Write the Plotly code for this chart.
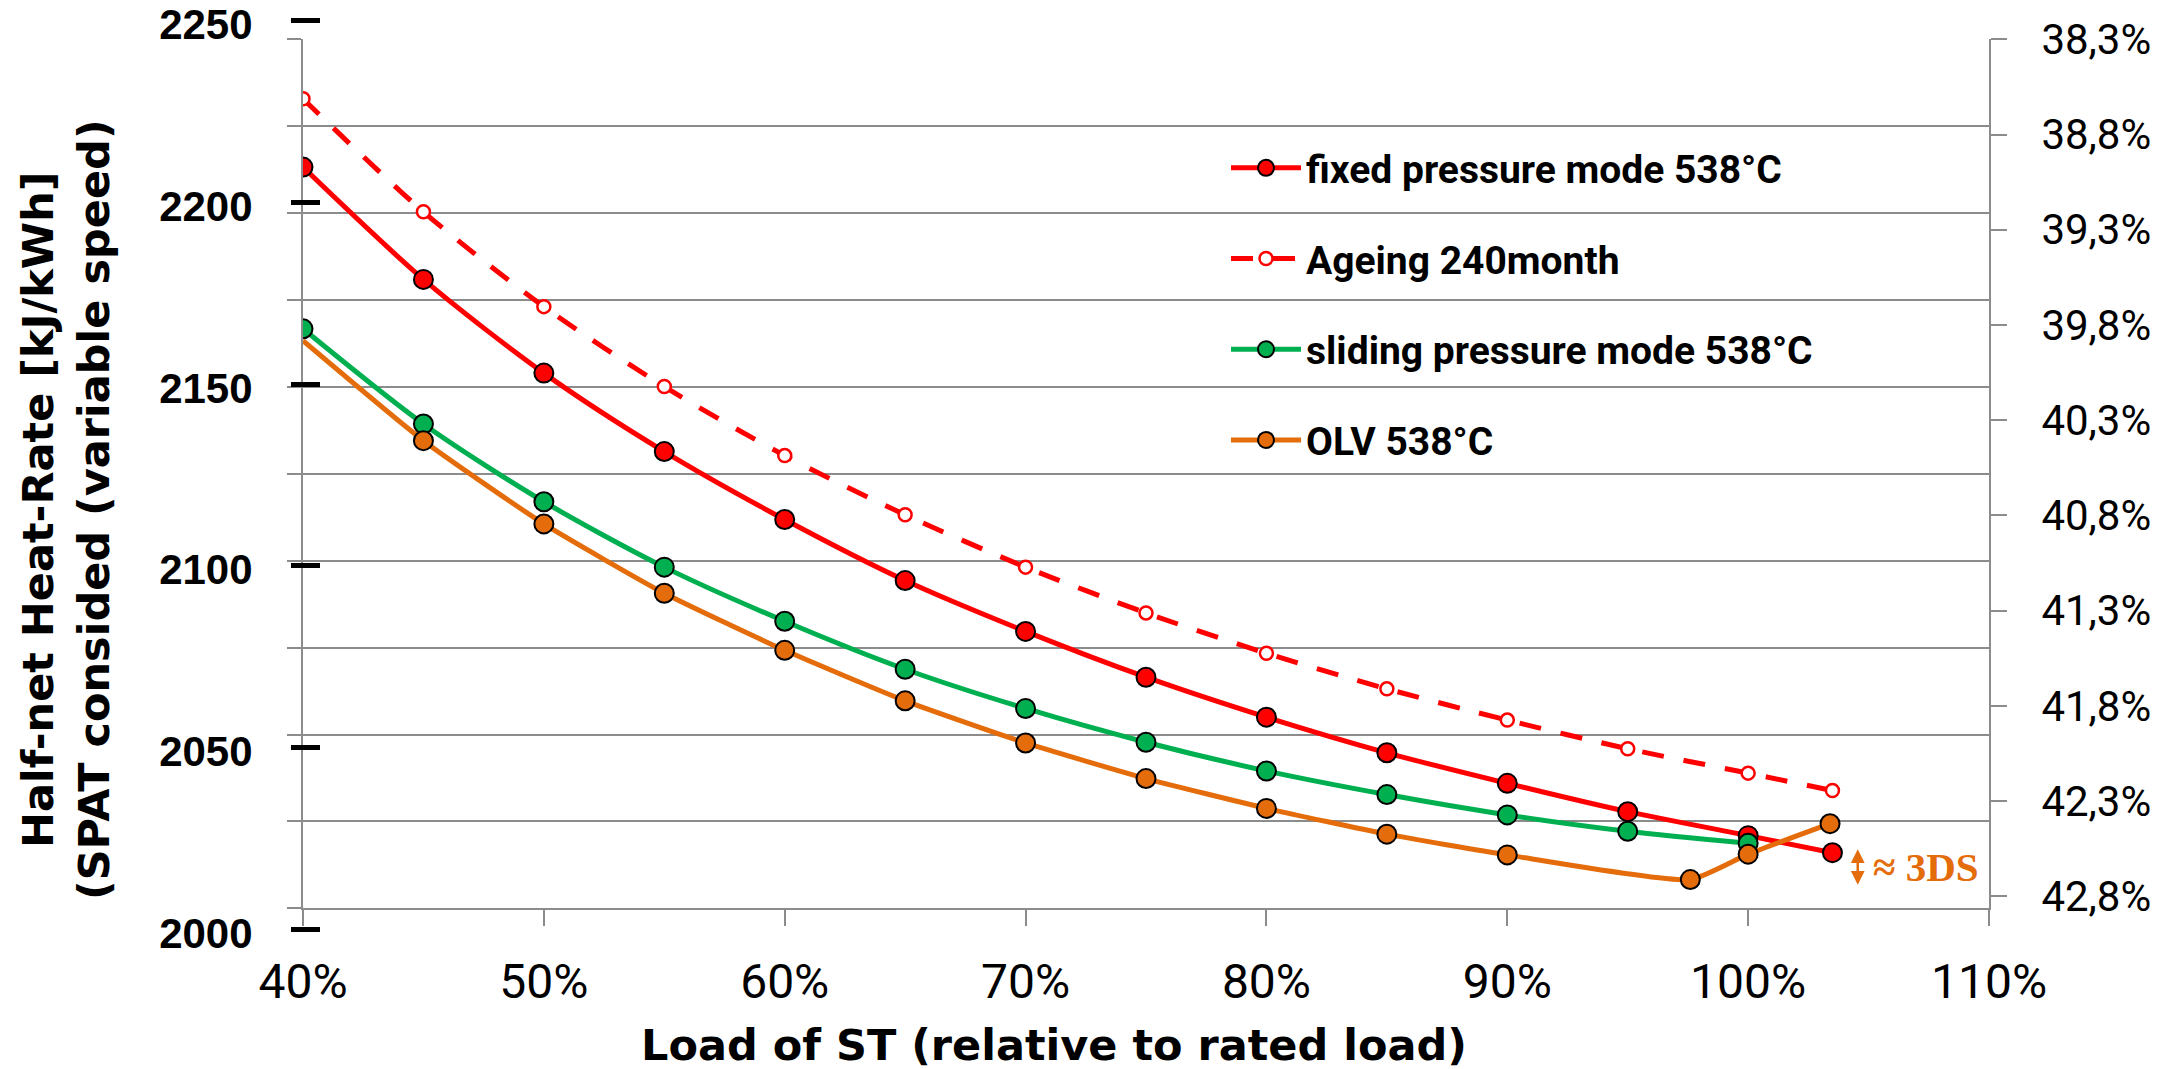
import plotly.graph_objects as go

# ---- data -------------------------------------------------------------
load_main = [40, 45, 50, 55, 60, 65, 70, 75, 80, 85, 90, 95, 100, 103.5]
fixed_pressure = [2209.7, 2178.8, 2153.0, 2131.4, 2112.7, 2095.9, 2081.9,
                  2069.3, 2058.3, 2048.5, 2040.1, 2032.3, 2025.7, 2021.0]
ageing_240 = [2228.5, 2197.4, 2171.3, 2149.3, 2130.3, 2114.0, 2099.6,
              2087.0, 2075.9, 2066.1, 2057.5, 2049.6, 2042.9, 2038.1]

load_sliding = [40, 45, 50, 55, 60, 65, 70, 75, 80, 85, 90, 95, 100]
sliding_pressure = [2165.2, 2139.0, 2117.6, 2099.6, 2084.7, 2071.5, 2060.7,
                    2051.4, 2043.5, 2037.0, 2031.4, 2026.9, 2023.6]

load_olv = [40, 45, 50, 55, 60, 65, 70, 75, 80, 85, 90, 97.6, 100, 103.4]
olv = [2161.9, 2134.4, 2111.5, 2092.4, 2076.7, 2062.8, 2051.2,
       2041.4, 2033.2, 2026.1, 2020.4, 2013.6, 2020.6, 2029.0]

series_names = ["fixed pressure mode 538°C", "Ageing 240month",
                "sliding pressure mode 538°C", "OLV 538°C"]

x_ticks = [40, 50, 60, 70, 80, 90, 100, 110]
x_tick_text = ["40%", "50%", "60%", "70%", "80%", "90%", "100%", "110%"]

hr_ticks = [2000, 2050, 2100, 2150, 2200, 2250]
eff_ticks = [38.3, 38.8, 39.3, 39.8, 40.3, 40.8, 41.3, 41.8, 42.3, 42.8]
eff_tick_text = ["38,3%", "38,8%", "39,3%", "39,8%", "40,3%",
                 "40,8%", "41,3%", "41,8%", "42,3%", "42,8%"]

# ---- layout geometry (pixels) ----------------------------------------
W, H = 2179, 1069
PL, PR = 303, 1989          # plot left / right
PT, PB = 20, 929            # paper top / bottom
GRID_T, GRID_B = 39.3, 908.3


def px_x(p):
    return (p - PL) / (PR - PL)


def px_y(p):
    return (PB - p) / (PB - PT)


RED = "#FF0000"
GREEN = "#00B050"
ORANGE = "#E46C0A"
GRAY = "#8C8C8C"

fig = go.Figure()

# helper traces so the grid axis and the efficiency axis are created
fig.add_trace(go.Scatter(x=[None], y=[None], yaxis="y", mode="lines",
                         showlegend=False, hoverinfo="skip"))
fig.add_trace(go.Scatter(x=[None], y=[None], yaxis="y2", mode="lines",
                         showlegend=False, hoverinfo="skip"))

marker_line = dict(color="black", width=2)

fig.add_trace(go.Scatter(
    x=load_main, y=fixed_pressure, yaxis="y3", name=series_names[0],
    legendgroup="a", mode="lines+markers",
    line=dict(color=RED, width=5, shape="spline", smoothing=0.8),
    marker=dict(size=19, color=RED, opacity=1, line=marker_line)))

fig.add_trace(go.Scatter(
    x=load_main, y=ageing_240, yaxis="y3", name=series_names[1],
    legendgroup="b", mode="lines+markers",
    line=dict(color=RED, width=5, dash="22px,20px", shape="spline", smoothing=0.8),
    marker=dict(size=13, color="white", opacity=1,
                line=dict(color=RED, width=2.5))))

fig.add_trace(go.Scatter(
    x=load_sliding, y=sliding_pressure, yaxis="y3", name=series_names[2],
    legendgroup="c", mode="lines+markers",
    line=dict(color=GREEN, width=5, shape="spline", smoothing=0.8),
    marker=dict(size=19, color=GREEN, opacity=1, line=marker_line)))

olv_sizes = [0] + [19] * (len(olv) - 1)
fig.add_trace(go.Scatter(
    x=load_olv, y=olv, yaxis="y3", name=series_names[3],
    legendgroup="d", mode="lines+markers",
    line=dict(color=ORANGE, width=5, shape="spline", smoothing=0.5),
    marker=dict(size=olv_sizes, sizemode="diameter", color=ORANGE,
                opacity=1, line=marker_line)))

y_dom = [px_y(GRID_B), px_y(GRID_T)]
hr_top = 2000 + 250 / px_y(20.7)
eff_bottom = 38.3 + 4.5 * (GRID_B - GRID_T) / (896.3 - GRID_T)

fig.update_layout(
    width=W, height=H,
    margin=dict(l=PL, r=W - PR, t=PT, b=H - PB, pad=0, autoexpand=False),
    paper_bgcolor="white", plot_bgcolor="rgba(0,0,0,0)",
    xaxis=dict(
        range=[40, 110], anchor="y", domain=[0, 1], automargin=False,
        tickvals=x_ticks, ticktext=x_tick_text,
        ticks="outside", ticklen=16, tickwidth=2, tickcolor=GRAY,
        showline=True, linecolor=GRAY, linewidth=2,
        showgrid=False, zeroline=False,
        tickfont=dict(family="Roboto", size=48, color="black"),
        ticklabelstandoff=14),
    yaxis=dict(
        domain=y_dom, range=[0, 10], dtick=1, tick0=0, automargin=False,
        showgrid=True, gridcolor=GRAY, gridwidth=2,
        showticklabels=False, ticks="outside", ticklen=14,
        tickwidth=2, tickcolor=GRAY,
        showline=True, linecolor=GRAY, linewidth=2, zeroline=False),
    yaxis2=dict(
        overlaying="y", side="right", anchor="x", automargin=False,
        range=[eff_bottom, 38.3],
        tickvals=eff_ticks, ticktext=eff_tick_text,
        ticks="outside", ticklen=16, tickwidth=2, tickcolor=GRAY,
        showline=True, linecolor=GRAY, linewidth=2,
        showgrid=False, zeroline=False, ticklabeloverflow="allow",
        tickfont=dict(family="Roboto", size=42, color="black"),
        ticklabelstandoff=26),
    yaxis3=dict(
        domain=[0, 1], range=[2000, hr_top], anchor="free", automargin=False,
        position=px_x(320), side="left",
        tickvals=hr_ticks, ticks="outside", ticklen=29, tickwidth=4.5,
        tickcolor="black", showline=False, showgrid=False, zeroline=False,
        ticklabeloverflow="allow", ticklabelshift=4,
        tickfont=dict(family="Liberation Sans", size=42, color="black",
                      weight="bold"),
        ticklabelstandoff=30),
    legend=dict(
        x=px_x(1226), y=px_y(136), xanchor="left", yanchor="top",
        bgcolor="rgba(0,0,0,0)", traceorder="grouped", tracegroupgap=37,
        itemwidth=70,
        font=dict(family="Roboto", size=39, color="black", weight="bold")),
    showlegend=True,
)

# axis titles
fig.add_annotation(
    xref="paper", yref="paper", x=px_x(66), y=px_y(510),
    text="Half-net Heat-Rate [kJ/kWh]<br>(SPAT consided (variable speed)",
    textangle=-90, showarrow=False, xanchor="center", yanchor="middle",
    font=dict(family="DejaVu Sans", size=43, color="black", weight="bold"))

fig.add_annotation(
    xref="paper", yref="paper", x=px_x(1054), y=px_y(1045),
    text="Load of ST (relative to rated load)", showarrow=False,
    xanchor="center", yanchor="middle",
    font=dict(family="DejaVu Sans", size=43, color="black", weight="bold"))

# deviation marker next to the full-load points
fig.add_annotation(
    xref="x", yref="y3", x=104.55, y=2012.2, ax=0, ay=-37,
    text="", showarrow=True, arrowhead=2, arrowside="end+start",
    arrowsize=1.1, arrowwidth=2.5, arrowcolor=ORANGE)
fig.add_annotation(
    xref="x", yref="y3", x=105.1, y=2017.0, text="≈ 3DS",
    showarrow=False, xanchor="left", yanchor="middle",
    font=dict(family="Liberation Serif", size=41, color=ORANGE, weight="bold"))

fig.write_html("out.html")
